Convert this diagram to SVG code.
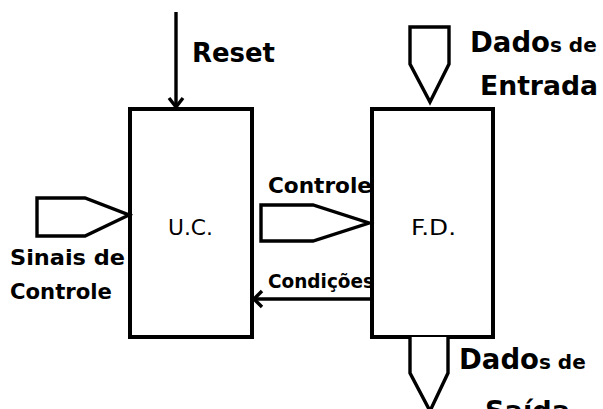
<svg xmlns="http://www.w3.org/2000/svg" width="603" height="409" viewBox="0 0 603 409">
<style>
.box{fill:#fff;stroke:#000;stroke-width:4}
.pent{fill:#fff;stroke:#000;stroke-width:3.4;stroke-linejoin:miter}
.ln{fill:none;stroke:#000;stroke-width:3.4}
.lbl{font-family:"DejaVu Sans",sans-serif;font-weight:bold;fill:#000}
.in{font-family:"DejaVu Sans",sans-serif;font-weight:normal;fill:#000;font-size:22px}
</style>
<rect width="603" height="409" fill="#fff"/>
<g id="connectors">
  <line class="ln" x1="176" y1="12" x2="176" y2="107"/>
  <polyline class="ln" points="169,98 176,107 183,98"/>
  <line class="ln" x1="372" y1="299" x2="254" y2="299"/>
  <polyline class="ln" points="262,291 254,299 262,307"/>
</g>
<g id="uc">
  <rect class="box" x="130" y="109" width="122" height="228"/>
  <text class="in" x="168" y="235" textLength="45" lengthAdjust="spacingAndGlyphs">U.C.</text>
</g>
<g id="fd">
  <rect class="box" x="372" y="109" width="121" height="228"/>
  <text class="in" x="411" y="235" textLength="45" lengthAdjust="spacingAndGlyphs">F.D.</text>
</g>
<g id="reset-label">
  <text class="lbl" x="192" y="62" font-size="27" textLength="83" lengthAdjust="spacingAndGlyphs">Reset</text>
</g>
<g id="sinais">
  <polygon class="pent" points="37,198 85,198 129,215 85,236 37,236"/>
  <text class="lbl" x="10" y="265" font-size="21" textLength="115" lengthAdjust="spacingAndGlyphs">Sinais de</text>
  <text class="lbl" x="10" y="299" font-size="21" textLength="102" lengthAdjust="spacingAndGlyphs">Controle</text>
</g>
<g id="controle">
  <polygon class="pent" points="261,205 313,205 369,223 313,241 261,241"/>
  <text class="lbl" x="268" y="193" font-size="21" textLength="104" lengthAdjust="spacingAndGlyphs">Controle</text>
</g>
<g id="condicoes">
  <text class="lbl" x="268" y="288" font-size="20" textLength="106" lengthAdjust="spacingAndGlyphs">Condições</text>
</g>
<g id="entrada">
  <polygon class="pent" points="410,27 449,27 449,64 430,102 410,64"/>
  <text class="lbl" x="470" y="52" font-size="28"><tspan textLength="80" lengthAdjust="spacingAndGlyphs">Dado</tspan><tspan font-size="20">s de</tspan></text>
  <text class="lbl" x="480" y="95" font-size="27" textLength="118" lengthAdjust="spacingAndGlyphs">Entrada</text>
</g>
<g id="saida">
  <polyline class="pent" points="410,337 410,373 430,411 448,373 448,337"/>
  <text class="lbl" x="459" y="369" font-size="28"><tspan textLength="80" lengthAdjust="spacingAndGlyphs">Dado</tspan><tspan font-size="20">s de</tspan></text>
  <text class="lbl" x="485" y="420" font-size="27" textLength="85" lengthAdjust="spacingAndGlyphs">Saída</text>
</g>
</svg>
